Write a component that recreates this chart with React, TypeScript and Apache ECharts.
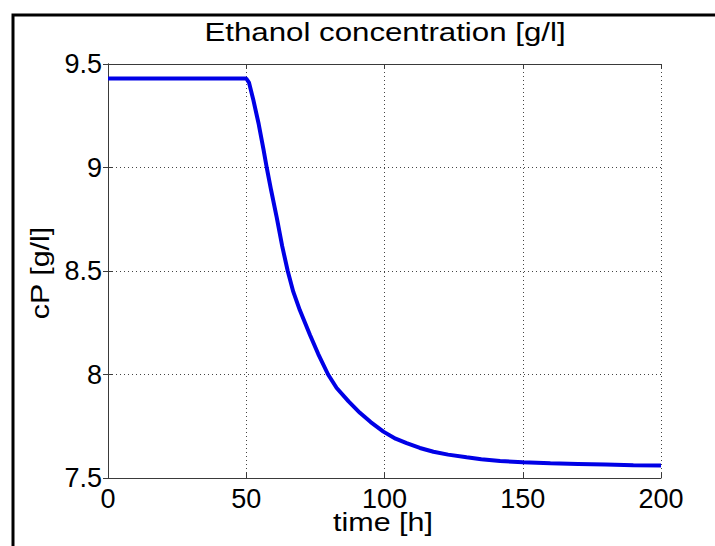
import React, { useEffect, useRef } from "react";
import * as echarts from "echarts";

const titleText = "Ethanol concentration [g/l]";
const xName = "time [h]";
const yName = "cP [g/l]";

const time = [0, 50, 51, 52.5, 54.5, 56.2, 57.4, 59, 61, 63, 65, 67, 69.4, 73.1, 76, 79.6, 82.7, 87, 91.1, 95, 99.6, 104, 108, 112.8, 117.7, 123, 129.7, 135, 141.8, 150, 160, 170, 180, 190, 200];
const cP = [9.43, 9.43, 9.41, 9.33, 9.21, 9.09, 9.0, 8.89, 8.76, 8.62, 8.5, 8.4, 8.31, 8.19, 8.1, 8.0, 7.935, 7.87, 7.815, 7.77, 7.724, 7.69, 7.668, 7.645, 7.627, 7.613, 7.6, 7.591, 7.582, 7.576, 7.571, 7.568, 7.565, 7.562, 7.56];

const xMin = 0, xMax = 200, xStep = 50;
const yMin = 7.5, yMax = 9.5, yStep = 0.5;

const FONT = "'Liberation Sans', Arial, Helvetica, sans-serif";

export default function App() {
  const ref = useRef<HTMLDivElement>(null);
  useEffect(() => {
    if (!ref.current) return;
    const chart = echarts.init(ref.current, null, { renderer: "svg" });
    const axisLine = { show: true, lineStyle: { color: "#3a3a3a", width: 1 } };
    const tick = { show: true, inside: true, length: 5, lineStyle: { color: "#3a3a3a", width: 1 } };
    const grid = { show: true, lineStyle: { color: "#444", width: 1, type: [1, 3] as any } };
    const label = { color: "#000", fontSize: 27, fontFamily: FONT };
    chart.setOption({
      animation: false,
      backgroundColor: "#fff",
      grid: { left: 108, right: 54, top: 64, bottom: 68, containLabel: false },
      xAxis: [
        {
          type: "value", min: xMin, max: xMax, interval: xStep, position: "bottom",
          axisLine, axisTick: tick, splitLine: grid,
          axisLabel: { ...label, margin: 7 },
        },
        {
          type: "value", min: xMin, max: xMax, interval: xStep, position: "top",
          axisLine, axisTick: tick, splitLine: { show: false }, axisLabel: { show: false },
        },
      ],
      yAxis: [
        {
          type: "value", min: yMin, max: yMax, interval: yStep, position: "left",
          axisLine, axisTick: tick, splitLine: grid,
          axisLabel: { ...label, margin: 6 },
        },
        {
          type: "value", min: yMin, max: yMax, interval: yStep, position: "right",
          axisLine, axisTick: tick, splitLine: { show: false }, axisLabel: { show: false },
        },
      ],
      series: [
        {
          type: "line",
          data: time.map((t, i) => [t, cP[i]]),
          symbol: "none",
          lineStyle: { color: "#0000e6", width: 4 },
          xAxisIndex: 0, yAxisIndex: 0,
        },
      ],
      graphic: [
        {
          type: "rect",
          shape: { x: 13, y: 15, width: 900, height: 800 },
          style: { fill: "none", stroke: "#000", lineWidth: 3 },
          silent: true,
        },
        {
          type: "text", x: 385, y: 32, scaleX: 1.25,
          style: { text: titleText, fill: "#000", fontSize: 25, fontFamily: FONT, textAlign: "center", textVerticalAlign: "middle" },
        },
        {
          type: "text", x: 383, y: 522, scaleX: 1.22,
          style: { text: xName, fill: "#000", fontSize: 25, fontFamily: FONT, textAlign: "center", textVerticalAlign: "middle" },
        },
        {
          type: "text", x: 40, y: 273, rotation: Math.PI / 2, scaleX: 1.22,
          style: { text: yName, fill: "#000", fontSize: 25, fontFamily: FONT, textAlign: "center", textVerticalAlign: "middle" },
        },
      ],
    });
    return () => chart.dispose();
  }, []);
  return <div ref={ref} style={{ position: "absolute", left: 0, top: 0, width: 715, height: 546 }} />;
}
